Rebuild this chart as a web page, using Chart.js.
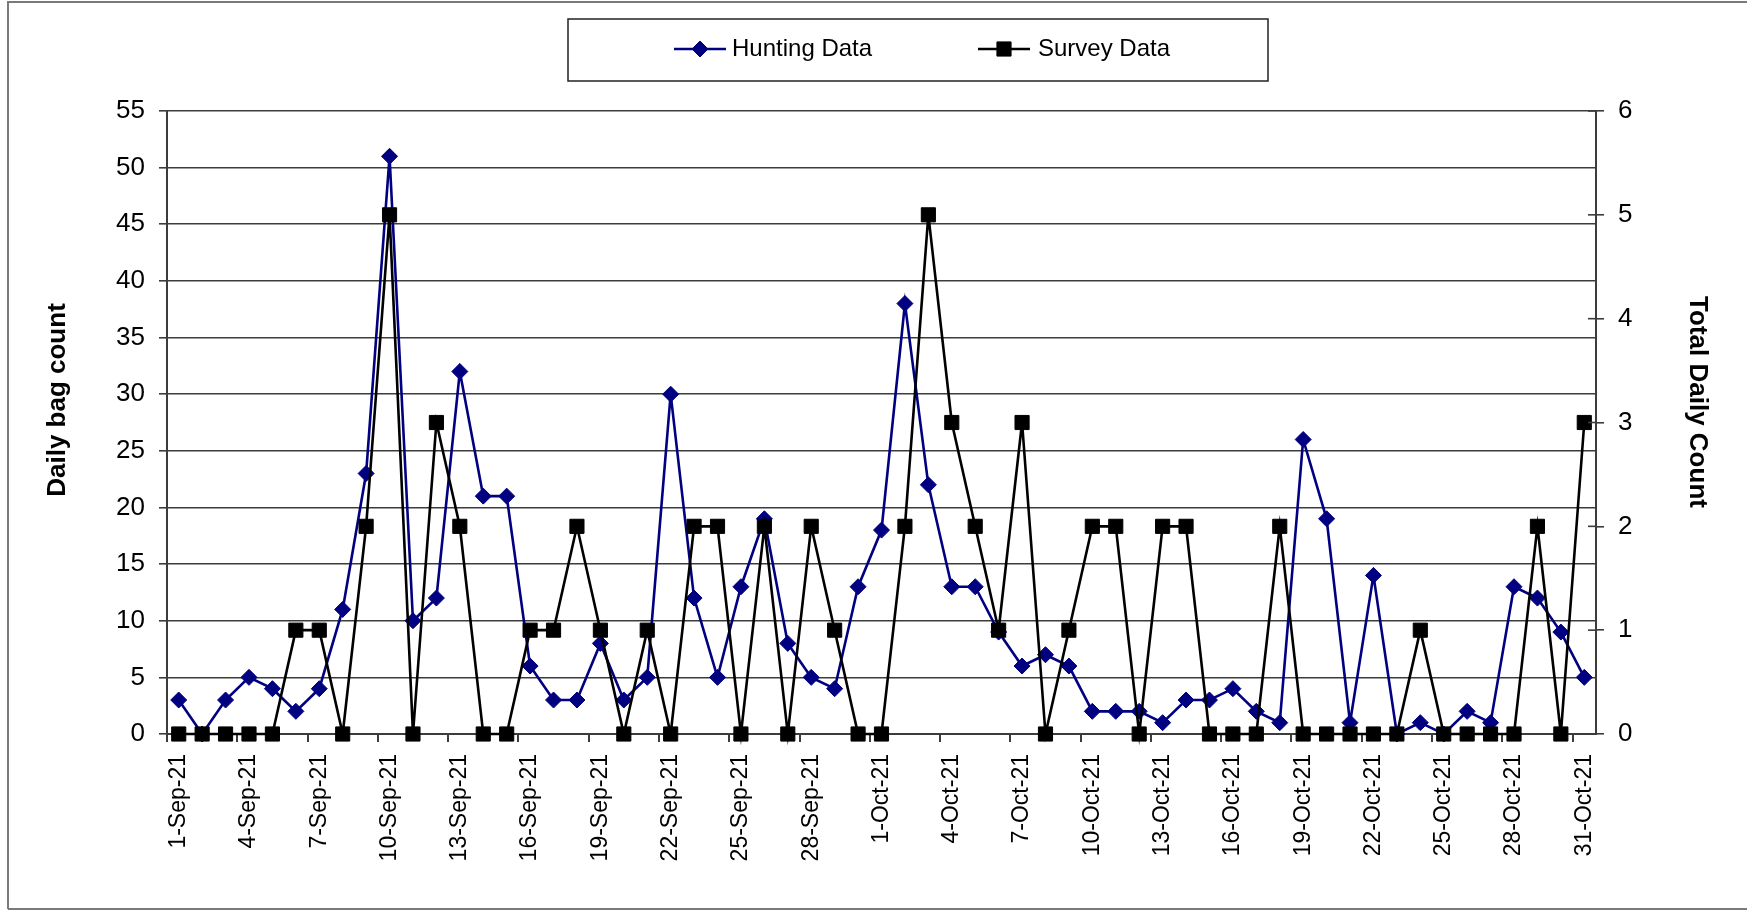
<!DOCTYPE html>
<html>
<head>
<meta charset="utf-8">
<script src="https://cdn.jsdelivr.net/npm/chart.js@4"></script>
<style>
  html, body { margin: 0; padding: 0; background: #fff; }
  #wrap { width: 1747px; height: 912px; position: relative; }
</style>
</head>
<body>
<div id="wrap"><canvas id="chart"></canvas></div>
<script>
// Days, 1 Sep to 31 Oct 2021.
const days = [
  '1-Sep-21', '2-Sep-21', '3-Sep-21', '4-Sep-21', '5-Sep-21', '6-Sep-21', '7-Sep-21', '8-Sep-21', '9-Sep-21', '10-Sep-21',
  '11-Sep-21', '12-Sep-21', '13-Sep-21', '14-Sep-21', '15-Sep-21', '16-Sep-21', '17-Sep-21', '18-Sep-21', '19-Sep-21', '20-Sep-21',
  '21-Sep-21', '22-Sep-21', '23-Sep-21', '24-Sep-21', '25-Sep-21', '26-Sep-21', '27-Sep-21', '28-Sep-21', '29-Sep-21', '30-Sep-21',
  '1-Oct-21', '2-Oct-21', '3-Oct-21', '4-Oct-21', '5-Oct-21', '6-Oct-21', '7-Oct-21', '8-Oct-21', '9-Oct-21', '10-Oct-21',
  '11-Oct-21', '12-Oct-21', '13-Oct-21', '14-Oct-21', '15-Oct-21', '16-Oct-21', '17-Oct-21', '18-Oct-21', '19-Oct-21', '20-Oct-21',
  '21-Oct-21', '22-Oct-21', '23-Oct-21', '24-Oct-21', '25-Oct-21', '26-Oct-21', '27-Oct-21', '28-Oct-21', '29-Oct-21', '30-Oct-21',
  '31-Oct-21',
];

// Daily bag count (left axis).
const huntingData = [
  3, 0, 3, 5, 4, 2, 4, 11, 23, 51,
  10, 12, 32, 21, 21, 6, 3, 3, 8, 3,
  5, 30, 12, 5, 13, 19, 8, 5, 4, 13,
  18, 38, 22, 13, 13, 9, 6, 7, 6, 2,
  2, 2, 1, 3, 3, 4, 2, 1, 26, 19,
  1, 14, 0, 1, 0, 2, 1, 13, 12, 9,
  5,
];

// Total daily count (right axis).
const surveyData = [
  0, 0, 0, 0, 0, 1, 1, 0, 2, 5,
  0, 3, 2, 0, 0, 1, 1, 2, 1, 0,
  1, 0, 2, 2, 0, 2, 0, 2, 1, 0,
  0, 2, 5, 3, 2, 1, 3, 0, 1, 2,
  2, 0, 2, 2, 0, 0, 0, 2, 0, 0,
  0, 0, 0, 1, 0, 0, 0, 0, 2, 0,
  3,
];

const FONT = "'Liberation Sans', Arial, sans-serif";
const GRID = '#3c3c3c';

Chart.defaults.font.family = FONT;
Chart.defaults.color = '#000';

const ctx = document.getElementById('chart').getContext('2d');
new Chart(ctx, {
  type: 'line',
  data: {
    labels: days,
    datasets: [
      {
        label: 'Hunting Data',
        data: huntingData,
        yAxisID: 'y',
        order: 1,
        borderColor: '#000080',
        backgroundColor: '#000080',
        borderWidth: 2.6,
        tension: 0,
        pointStyle: 'rectRot',
        pointRadius: 8,
        pointBorderWidth: 1,
        pointBackgroundColor: '#000080',
        pointBorderColor: '#000080',
        clip: false,
      },
      {
        label: 'Survey Data',
        data: surveyData,
        yAxisID: 'y2',
        order: 0,
        borderColor: '#000',
        backgroundColor: '#000',
        borderWidth: 2.6,
        tension: 0,
        pointStyle: 'rect',
        pointRadius: 10,
        pointBorderWidth: 1,
        pointBackgroundColor: '#000',
        pointBorderColor: '#000',
        clip: false,
      },
    ],
  },
  options: {
    responsive: true,
    maintainAspectRatio: false,
    animation: false,
    layout: {
      padding: {top: 111, left: 0, right: 0, bottom: 0},
    },
    plugins: {
      legend: {display: false},
      tooltip: {enabled: false},
      title: {display: false},
    },
    scales: {
      x: {
        type: 'category',
        offset: true,
        afterFit: (scale) => { scale.height = 178; },
        border: {display: true, color: GRID, width: 2},
        grid: {
          offset: true,
          drawOnChartArea: false,
          drawTicks: true,
          tickLength: 8,
          lineWidth: 2,
          color: (c) => (c.index % 3 === 0 ? GRID : 'rgba(0,0,0,0)'),
        },
        ticks: {
          autoSkip: false,
          maxRotation: 90,
          minRotation: 90,
          padding: 12,
          font: {size: 23},
          callback: function (value, index) {
            return index % 3 === 0 ? this.getLabelForValue(value) : '';
          },
        },
      },
      y: {
        position: 'left',
        min: 0,
        max: 55,
        afterFit: (scale) => { scale.width = 167; },
        border: {display: true, color: GRID, width: 2},
        grid: {
          color: GRID,
          lineWidth: 1.6,
          tickLength: 8,
        },
        ticks: {
          stepSize: 5,
          padding: 14,
          font: {size: 26},
        },
      },
      y2: {
        position: 'right',
        min: 0,
        max: 6,
        afterFit: (scale) => { scale.width = 151; },
        border: {display: true, color: GRID, width: 2},
        grid: {
          drawOnChartArea: false,
          color: GRID,
          lineWidth: 1.6,
          tickLength: 8,
        },
        ticks: {
          stepSize: 1,
          padding: 14,
          font: {size: 26},
        },
      },
    },
  },
  plugins: [
    {
      id: 'whiteBackground',
      beforeDraw: (chart) => {
        const {ctx} = chart;
        ctx.save();
        ctx.fillStyle = '#fff';
        ctx.fillRect(0, 0, chart.width, chart.height);
        ctx.restore();
      },
    },
    {
      id: 'excelExtras',
      afterDraw: (chart) => {
        const {ctx} = chart;
        ctx.save();

        // Outer frame.
        ctx.strokeStyle = '#7a7a7a';
        ctx.lineWidth = 2;
        ctx.beginPath();
        ctx.moveTo(8, 909);
        ctx.lineTo(8, 2);
        ctx.lineTo(1747, 2);
        ctx.moveTo(8, 909);
        ctx.lineTo(1747, 909);
        ctx.stroke();

        // Cross tick marks on the right axis (inner half).
        const s2 = chart.scales.y2;
        ctx.strokeStyle = GRID;
        ctx.lineWidth = 1.6;
        s2.ticks.forEach((t, i) => {
          const y = s2.getPixelForTick(i);
          ctx.beginPath();
          ctx.moveTo(s2.left - 8, y);
          ctx.lineTo(s2.left, y);
          ctx.stroke();
        });

        // Legend box.
        ctx.strokeStyle = '#222';
        ctx.lineWidth = 1.5;
        ctx.strokeRect(568, 19, 700, 62);

        const items = [
          {ds: chart.data.datasets[0], x: 674, textX: 732},
          {ds: chart.data.datasets[1], x: 978, textX: 1038},
        ];
        const ly = 49;
        items.forEach(({ds, x, textX}) => {
          ctx.strokeStyle = ds.borderColor;
          ctx.lineWidth = ds.borderWidth;
          ctx.beginPath();
          ctx.moveTo(x, ly);
          ctx.lineTo(x + 52, ly);
          ctx.stroke();
          ctx.fillStyle = ds.pointBackgroundColor;
          ctx.strokeStyle = ds.pointBorderColor;
          ctx.lineWidth = 1;
          Chart.helpers.drawPoint(ctx, {
            pointStyle: ds.pointStyle,
            radius: ds.pointRadius,
            borderWidth: 1,
            rotation: 0,
          }, x + 26, ly);
          ctx.fillStyle = '#000';
          ctx.font = '24px ' + FONT;
          ctx.textAlign = 'left';
          ctx.textBaseline = 'middle';
          ctx.fillText(ds.label, textX, ly);
        });

        // Axis titles.
        ctx.fillStyle = '#000';
        ctx.font = 'bold 26px ' + FONT;
        ctx.textAlign = 'center';
        ctx.textBaseline = 'middle';
        ctx.save();
        ctx.translate(58, 400);
        ctx.rotate(-Math.PI / 2);
        ctx.fillText('Daily bag count', 0, 0);
        ctx.restore();
        ctx.save();
        ctx.translate(1697, 402);
        ctx.rotate(Math.PI / 2);
        ctx.fillText('Total Daily Count', 0, 0);
        ctx.restore();

        ctx.restore();
      },
    },
  ],
});
</script>
</body>
</html>
